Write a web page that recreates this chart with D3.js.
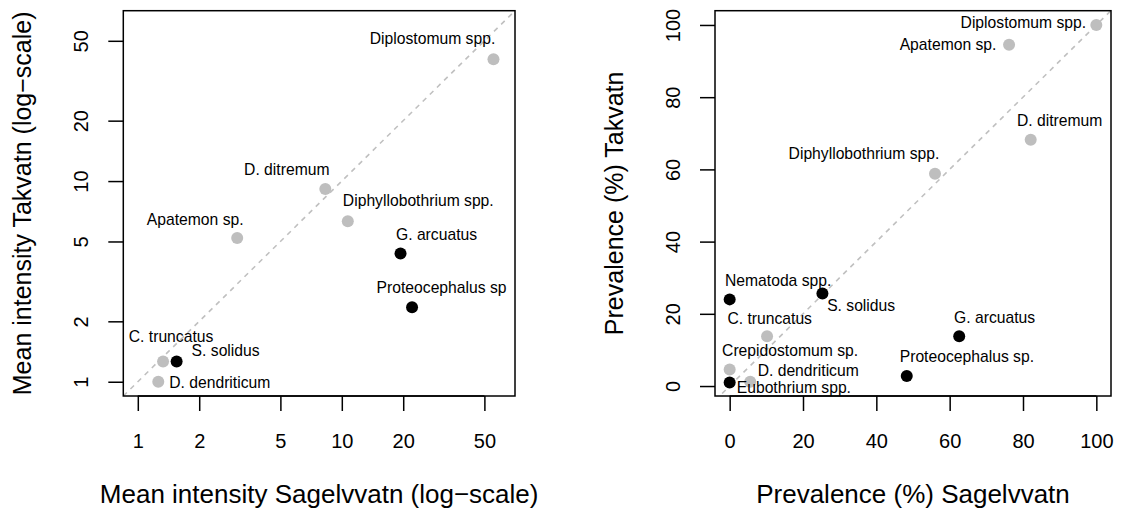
<!DOCTYPE html>
<html>
<head>
<meta charset="utf-8">
<script src="https://cdn.jsdelivr.net/npm/d3@7"></script>
<style>
  html, body { margin: 0; padding: 0; background: #fff; }
  svg { display: block; font-family: "Liberation Sans", Arial, Helvetica, sans-serif; }
</style>
</head>
<body>
<svg id="chart" width="1121" height="511"></svg>
<script>
// ---------- Data: left panel (mean intensity, log scale) ----------
const intensitySpecies = ["Diplostomum spp.", "D. ditremum", "Diphyllobothrium spp.", "Apatemon sp.",
  "G. arcuatus", "Proteocephalus sp", "C. truncatus", "S. solidus", "D. dendriticum"];
const intensitySagelvvatn = [55.4, 8.3, 10.7, 3.07, 19.4, 22.1, 1.33, 1.55, 1.26];
const intensityTakvatn   = [40.5, 9.12, 6.3, 5.2, 4.36, 2.35, 1.26, 1.26, 1.0];
const intensityGroup     = ["A", "A", "A", "A", "B", "B", "A", "B", "A"];
const intensityTicks     = [1, 2, 5, 10, 20, 50];

// ---------- Data: right panel (prevalence, %) ----------
const prevalenceSpecies = ["Diplostomum spp.", "Apatemon sp.", "D. ditremum", "Diphyllobothrium spp.",
  "Nematoda spp.", "S. solidus", "C. truncatus", "G. arcuatus", "Crepidostomum sp.",
  "D. dendriticum", "Eubothrium spp.", "Proteocephalus sp."];
const prevalenceSagelvvatn = [100, 76.2, 82.1, 56.0, 0, 25.3, 10.2, 62.6, 0, 5.6, 0, 48.3];
const prevalenceTakvatn    = [100, 94.5, 68.2, 58.8, 24.0, 25.6, 13.8, 13.8, 4.6, 1.2, 1.0, 2.8];
const prevalenceGroup      = ["A", "A", "A", "A", "B", "B", "A", "B", "A", "A", "B", "B"];
const prevalenceTicks      = [0, 20, 40, 60, 80, 100];

// ---------- Layout (label nudges in px, relative to point) ----------
const intensityLabelNudge = [[-61, -21], [-38.5, -19.5], [70.5, -20.5], [-42, -19], [36, -19.5],
  [29.5, -20], [8, -25.5], [49, -11.5], [61.5, 0.5]];
const prevalenceLabelNudge = [[-73, -2.5], [-61, -0.5], [29, -19.5], [-71, -20.5], [48.5, -19],
  [38.7, 11.7], [2.6, -17.7], [35.4, -18.7], [60.4, -19.3], [58, -11.7], [64.2, 4.6], [60.1, -20]];

const groupColor = { A: "#bebebe", B: "#000000" };
const svg = d3.select("#chart");
const LABEL_FS = 15.7, TICK_FS = 20, XTITLE_FS = 26, YTITLE_FS = 25;
const boxTop = 10.7, boxBottom = 396;

function panel(opts) {
  const { x, y, xs, ys, species, group, nudges, ticks, xTitle, yTitle, diag } = opts;
  const g = svg.append("g");
  const [x0, x1] = x.range();
  const clipId = "clip" + Math.round(x0);
  svg.append("clipPath").attr("id", clipId).append("rect")
    .attr("x", x0).attr("y", boxTop).attr("width", x1 - x0).attr("height", boxBottom - boxTop);

  // dashed 1:1 line
  g.append("line")
    .attr("clip-path", `url(#${clipId})`)
    .attr("x1", x(diag[0])).attr("y1", y(diag[0]))
    .attr("x2", x(diag[1])).attr("y2", y(diag[1]))
    .attr("stroke", "#c0c0c0").attr("stroke-width", 1.6).attr("stroke-dasharray", "5,5");

  // axes
  const xAxis = d3.axisBottom(x).tickValues(ticks).tickFormat(d3.format("d")).tickSize(15).tickPadding(0);
  const yAxis = d3.axisLeft(y).tickValues(ticks).tickFormat(d3.format("d")).tickSize(15).tickPadding(0);
  const gx = g.append("g").attr("transform", `translate(0,${boxBottom})`).call(xAxis);
  const gy = g.append("g").attr("transform", `translate(${x0},0)`).call(yAxis);
  [gx, gy].forEach(a => {
    a.select(".domain").remove();
    a.selectAll(".tick line").attr("stroke", "#000").attr("stroke-width", 1.5);
    a.selectAll(".tick text").attr("fill", "#000").style("font-size", TICK_FS + "px");
  });
  gx.selectAll(".tick text").attr("y", 52.3).attr("dy", null).attr("text-anchor", "middle");
  gy.selectAll(".tick text")
    .attr("x", null).attr("dy", null)
    .attr("text-anchor", "middle")
    .attr("transform", "translate(-35,0) rotate(-90)")
    .attr("y", 0);
  g.append("line").attr("x1", x(ticks[0])).attr("x2", x(ticks[ticks.length - 1]))
    .attr("y1", boxBottom).attr("y2", boxBottom).attr("stroke", "#000").attr("stroke-width", 1.5);

  // box
  g.append("rect").attr("x", x0).attr("y", boxTop).attr("width", x1 - x0).attr("height", boxBottom - boxTop)
    .attr("fill", "none").attr("stroke", "#000").attr("stroke-width", 1.5);

  // points
  const idx = d3.range(species.length);
  g.append("g").selectAll("circle").data(idx).join("circle")
    .attr("cx", i => x(xs[i])).attr("cy", i => y(ys[i])).attr("r", 6)
    .attr("fill", i => groupColor[group[i]]);

  // labels
  g.append("g").selectAll("text").data(idx).join("text")
    .attr("x", i => x(xs[i]) + nudges[i][0])
    .attr("y", i => y(ys[i]) + nudges[i][1] + 0.36 * LABEL_FS)
    .attr("text-anchor", "middle")
    .style("font-size", LABEL_FS + "px")
    .attr("fill", "#000")
    .text(i => species[i]);

  // titles
  svg.append("text").attr("x", (x0 + x1) / 2).attr("y", 503.3)
    .attr("text-anchor", "middle").style("font-size", XTITLE_FS + "px").attr("fill", "#000").text(xTitle);
  svg.append("text")
    .attr("transform", `translate(${x0 - 92.5},${(boxTop + boxBottom) / 2}) rotate(-90)`)
    .attr("text-anchor", "middle").style("font-size", YTITLE_FS + "px").attr("fill", "#000").text(yTitle);
}

// Left panel
const xL = d3.scaleLog().domain([Math.pow(10, -0.0711), Math.pow(10, 1.849)]).range([123.3, 515]);
const yL = d3.scaleLog().domain([Math.pow(10, -0.0711), Math.pow(10, 1.849)]).range([boxBottom, boxTop]);
panel({
  x: xL, y: yL, xs: intensitySagelvvatn, ys: intensityTakvatn, species: intensitySpecies,
  group: intensityGroup, nudges: intensityLabelNudge, ticks: intensityTicks,
  xTitle: "Mean intensity Sagelvvatn (log\u2212scale)", yTitle: "Mean intensity Takvatn (log\u2212scale)",
  diag: [Math.pow(10, -0.0711), Math.pow(10, 1.849)]
});

// Right panel
const xR = d3.scaleLinear().domain([-4, 104]).range([715, 1111]);
const yR = d3.scaleLinear().domain([-2.76, 103.95]).range([boxBottom, boxTop]);
panel({
  x: xR, y: yR, xs: prevalenceSagelvvatn, ys: prevalenceTakvatn, species: prevalenceSpecies,
  group: prevalenceGroup, nudges: prevalenceLabelNudge, ticks: prevalenceTicks,
  xTitle: "Prevalence (%) Sagelvvatn", yTitle: "Prevalence (%) Takvatn",
  diag: [-4, 104]
});
</script>
</body>
</html>
